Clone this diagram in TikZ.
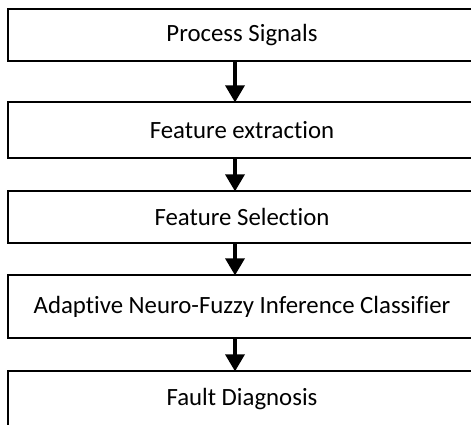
\documentclass[tikz,border=0pt]{standalone}
\usepackage{fontspec}
\setmainfont[Ligatures=NoCommon]{Carlito}
\usetikzlibrary{arrows.meta}
\tikzset{
  stage/.style={draw, line width=1.3pt, minimum width=468pt, inner sep=0pt,
    font=\fontsize{24.8}{30}\selectfont},
  flow/.style={line width=3.5pt, -{Triangle[width=19pt,length=17pt]}, shorten >=-1pt}
}
\begin{document}
\begin{tikzpicture}[x=1pt,y=1pt]
        \useasboundingbox (0,0) rectangle (471,-424);
        \clip (0,0) rectangle (471,-424);
        \node[stage, minimum height=52pt] (sig) at (242,-35) {Process Signals};
        \node[stage, minimum height=56pt] (ext) at (242,-130) {Feature extraction};
        \node[stage, minimum height=52pt] (sel) at (242,-217) {Feature Selection};
        \node[stage, minimum height=63pt] (anf) at (242,-306.5) {Adaptive Neuro-Fuzzy Inference Classifier};
        \node[stage, minimum height=56pt] (dia) at (242,-399) {Fault Diagnosis};
        \draw[flow] ([xshift=-7pt]sig.south) -- ([xshift=-7pt]ext.north);
        \draw[flow] ([xshift=-7pt]ext.south) -- ([xshift=-7pt]sel.north);
        \draw[flow] ([xshift=-7pt]sel.south) -- ([xshift=-7pt]anf.north);
        \draw[flow] ([xshift=-7pt]anf.south) -- ([xshift=-7pt]dia.north);
    \end{tikzpicture}
\end{document}
